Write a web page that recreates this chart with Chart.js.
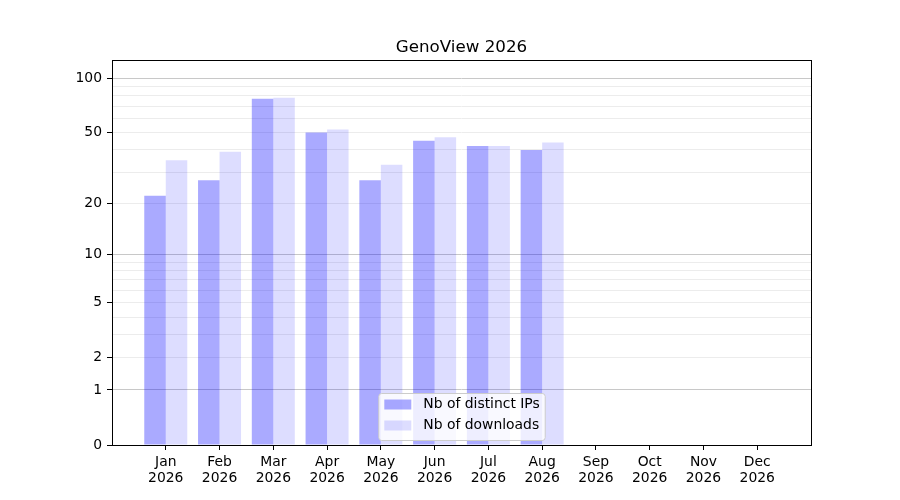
<!DOCTYPE html>
<html>
<head>
<meta charset="utf-8">
<title>GenoView 2026</title>
<script src="https://cdn.jsdelivr.net/npm/chart.js@4/dist/chart.umd.min.js"></script>
<style>
  html, body { margin: 0; padding: 0; background: #fff; }
  canvas { display: block; }
</style>
</head>
<body>
<canvas id="chart" width="900" height="500"></canvas>
<script>
// Chart data
const months = ['Jan', 'Feb', 'Mar', 'Apr', 'May', 'Jun', 'Jul', 'Aug', 'Sep', 'Oct', 'Nov', 'Dec'];
const year = '2026';
const distinctIps = [22, 27, 77, 50, 27, 45, 42, 40];
const downloads = [35, 39, 78, 52, 33, 47, 42, 44];
const yMajorTicks = [0, 1, 2, 5, 10, 20, 50, 100];
const yMinorTicks = [3, 4, 6, 7, 8, 9, 30, 40, 60, 70, 80, 90];
const yDecades = [1, 10, 100];
const yMax = 126;

// Function for the log(1 + x) axis transform
const fwd = v => Math.log10(1 + v);
const inv = t => Math.pow(10, t) - 1;

// Custom y scale: log10(1 + value)
class Log1pScale extends Chart.Scale {
  determineDataLimits() {
    const { min, max } = this.getMinMax(true);
    this.min = this.options.min ?? Math.max(0, min);
    this.max = this.options.max ?? max;
  }
  buildTicks() {
    return yMajorTicks.concat(yMinorTicks)
      .sort((a, b) => a - b)
      .map(v => ({ value: v }));
  }
  getLabelForValue(value) {
    return String(value);
  }
  configure() {
    super.configure();
    this._startValue = fwd(this.min);
    this._valueRange = fwd(this.max) - fwd(this.min);
  }
  getPixelForValue(value) {
    if (value === undefined || value === null || isNaN(value)) return NaN;
    return this.getPixelForDecimal((fwd(value) - this._startValue) / this._valueRange);
  }
  getValueForPixel(pixel) {
    return inv(this.getDecimalForPixel(pixel) * this._valueRange + this._startValue);
  }
}
Log1pScale.id = 'log1p';
Log1pScale.defaults = {};
Chart.register(Log1pScale);

// Plugin drawing the axes frame and the legend inside the plot
const frameAndLegend = {
  id: 'frameAndLegend',
  afterDraw(chart) {
    const { ctx, chartArea, data } = chart;
    const l = Math.round(chartArea.left) + 0.5;
    const t = Math.round(chartArea.top) + 0.5;
    const r = Math.round(chartArea.right) + 0.5;
    const b = Math.round(chartArea.bottom) + 0.5;

    ctx.save();
    ctx.strokeStyle = '#000';
    ctx.lineWidth = 1;
    ctx.strokeRect(l, t, r - l, b - t);

    const fontSize = 13.9;
    ctx.font = fontSize + 'px "DejaVu Sans"';
    const textW = Math.max(...data.datasets.map(d => ctx.measureText(d.label).width));
    const w = 6 + 27 + 12 + textW + 5;
    const h = 47;
    const x0 = (chartArea.left + chartArea.right) / 2 - w / 2;
    const y0 = chartArea.bottom - 5 - h;

    ctx.beginPath();
    if (ctx.roundRect) ctx.roundRect(x0 + 0.5, y0 + 0.5, w, h, 3);
    else ctx.rect(x0 + 0.5, y0 + 0.5, w, h);
    ctx.fillStyle = 'rgba(255,255,255,0.8)';
    ctx.fill();
    ctx.strokeStyle = '#cccccc';
    ctx.stroke();

    data.datasets.forEach((d, i) => {
      const cy = y0 + 11.5 + i * 21;
      ctx.fillStyle = d.backgroundColor;
      ctx.fillRect(x0 + 6, cy - 5, 27, 10);
      ctx.fillStyle = '#000';
      ctx.textBaseline = 'middle';
      ctx.textAlign = 'left';
      ctx.fillText(d.label, x0 + 45, cy);
    });
    ctx.restore();
  }
};

Chart.defaults.font.family = '"DejaVu Sans", sans-serif';
Chart.defaults.font.size = 13.9;
Chart.defaults.color = '#000';

new Chart(document.getElementById('chart'), {
  type: 'bar',
  data: {
    datasets: [
      {
        label: 'Nb of distinct IPs',
        data: distinctIps.map((v, i) => ({ x: i, y: v })),
        backgroundColor: 'rgba(0,0,255,0.333)',
        borderWidth: 0,
        categoryPercentage: 0.8,
        barPercentage: 1.0
      },
      {
        label: 'Nb of downloads',
        data: downloads.map((v, i) => ({ x: i, y: v })),
        backgroundColor: 'rgba(0,0,255,0.133)',
        borderWidth: 0,
        categoryPercentage: 0.8,
        barPercentage: 1.0
      }
    ]
  },
  options: {
    responsive: false,
    animation: false,
    devicePixelRatio: 1,
    layout: { padding: { left: 0, right: 89, top: 0, bottom: 0 } },
    plugins: {
      legend: { display: false },
      tooltip: { enabled: false },
      title: {
        display: true,
        fullSize: false,
        text: 'GenoView 2026',
        color: '#000',
        font: { size: 16.7, weight: 'normal', lineHeight: 1.2 },
        padding: { top: 38, bottom: 2 }
      }
    },
    scales: {
      x: {
        type: 'linear',
        min: -1,
        max: 12,
        offset: false,
        border: { display: false },
        grid: { offset: false, drawOnChartArea: false, tickLength: 5, tickColor: '#000' },
        ticks: {
          stepSize: 1,
          padding: 4,
          autoSkip: false,
          maxRotation: 0,
          font: { lineHeight: 1.15 },
          callback: v => [months[v], year]
        },
        afterBuildTicks: scale => {
          scale.ticks = scale.ticks.filter(t => t.value >= 0 && t.value < months.length);
        },
        afterFit: scale => { scale.height = 55; }
      },
      y: {
        type: 'log1p',
        min: 0,
        max: yMax,
        border: { display: false },
        grid: {
          tickLength: 5,
          lineWidth: 1,
          color: c => yDecades.includes(c.tick.value) ? '#c8c8c8' : '#ececec',
          tickColor: c => yMajorTicks.includes(c.tick.value) ? '#000' : 'rgba(0,0,0,0)'
        },
        ticks: {
          padding: 5,
          autoSkip: false,
          callback: v => yMajorTicks.includes(v) ? String(v) : ''
        },
        afterFit: scale => { scale.width = 112; }
      }
    }
  },
  plugins: [frameAndLegend]
});
</script>
</body>
</html>
